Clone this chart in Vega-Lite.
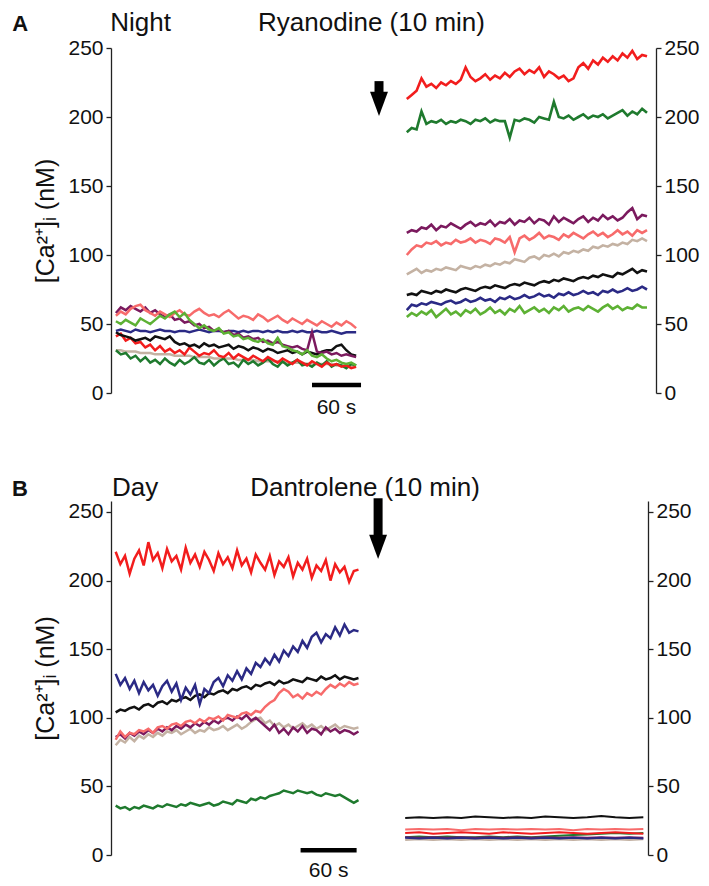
{
"$schema":"https://vega.github.io/schema/vega-lite/v6.json",
"background":"white",
"padding":{"left":12,"top":10,"right":5,"bottom":3},
"bounds":"flush",
"spacing":108,
"config":{"view":{"stroke":null},"font":"Liberation Sans",
"axis":{"grid":false,"labelFont":"Liberation Sans","labelFontSize":21,"labelColor":"#111","domainColor":"#222","tickColor":"#222","domainWidth":1.3,"tickWidth":1.3,"tickSize":5,"labelPadding":3,"titleFont":"Liberation Sans","titleFontSize":25,"titleFontWeight":"normal","titleColor":"#111"}},
"datasets":{
"AL":[
{"t":6,"r":41,"g":31,"p":58,"s":56,"n":31,"k":44,"b":45,"l":52},
{"t":12,"r":43,"g":28,"p":62,"s":59,"n":31,"k":42,"b":46,"l":50},
{"t":18,"r":38,"g":29,"p":60,"s":57,"n":30,"k":41,"b":45,"l":53},
{"t":24,"r":40,"g":25,"p":63,"s":61,"n":30,"k":40,"b":44,"l":51},
{"t":30,"r":36,"g":27,"p":61,"s":63,"n":30,"k":38,"b":46,"l":49},
{"t":36,"r":37,"g":23,"p":59,"s":64,"n":29,"k":39,"b":45,"l":54},
{"t":42,"r":33,"g":26,"p":62,"s":60,"n":29,"k":40,"b":45,"l":52},
{"t":48,"r":35,"g":22,"p":58,"s":58,"n":29,"k":38,"b":44,"l":50},
{"t":54,"r":31,"g":24,"p":60,"s":56,"n":28,"k":41,"b":45,"l":53},
{"t":60,"r":34,"g":21,"p":57,"s":59,"n":28,"k":40,"b":46,"l":56},
{"t":66,"r":30,"g":25,"p":55,"s":57,"n":28,"k":39,"b":45,"l":54},
{"t":72,"r":32,"g":22,"p":57,"s":55,"n":28,"k":41,"b":45,"l":57},
{"t":78,"r":29,"g":20,"p":53,"s":58,"n":27,"k":37,"b":44,"l":59},
{"t":84,"r":31,"g":24,"p":54,"s":60,"n":27,"k":35,"b":45,"l":55},
{"t":90,"r":28,"g":21,"p":51,"s":57,"n":27,"k":36,"b":45,"l":58},
{"t":96,"r":33,"g":23,"p":52,"s":56,"n":27,"k":34,"b":44,"l":53},
{"t":102,"r":30,"g":26,"p":49,"s":59,"n":26,"k":35,"b":45,"l":50},
{"t":108,"r":27,"g":22,"p":50,"s":61,"n":26,"k":33,"b":46,"l":47},
{"t":114,"r":29,"g":21,"p":47,"s":58,"n":26,"k":36,"b":45,"l":49},
{"t":120,"r":28,"g":24,"p":48,"s":56,"n":26,"k":34,"b":44,"l":46},
{"t":126,"r":31,"g":20,"p":45,"s":57,"n":25,"k":35,"b":45,"l":45},
{"t":132,"r":27,"g":23,"p":46,"s":55,"n":25,"k":33,"b":45,"l":47},
{"t":138,"r":26,"g":25,"p":44,"s":58,"n":25,"k":34,"b":44,"l":43},
{"t":144,"r":29,"g":21,"p":45,"s":60,"n":25,"k":35,"b":45,"l":44},
{"t":150,"r":25,"g":22,"p":42,"s":57,"n":25,"k":32,"b":45,"l":41},
{"t":156,"r":28,"g":19,"p":43,"s":54,"n":24,"k":34,"b":44,"l":42},
{"t":162,"r":26,"g":24,"p":40,"s":56,"n":24,"k":33,"b":45,"l":39},
{"t":168,"r":24,"g":21,"p":41,"s":55,"n":24,"k":31,"b":44,"l":40},
{"t":174,"r":27,"g":23,"p":39,"s":53,"n":24,"k":33,"b":45,"l":38},
{"t":180,"r":25,"g":20,"p":40,"s":57,"n":23,"k":32,"b":45,"l":37},
{"t":186,"r":23,"g":22,"p":37,"s":55,"n":23,"k":30,"b":44,"l":39},
{"t":192,"r":26,"g":25,"p":38,"s":52,"n":23,"k":32,"b":45,"l":36},
{"t":198,"r":24,"g":21,"p":36,"s":54,"n":23,"k":31,"b":44,"l":35},
{"t":204,"r":22,"g":19,"p":37,"s":56,"n":23,"k":29,"b":45,"l":40},
{"t":210,"r":25,"g":23,"p":35,"s":53,"n":22,"k":30,"b":44,"l":34},
{"t":216,"r":23,"g":20,"p":34,"s":51,"n":22,"k":31,"b":44,"l":33},
{"t":222,"r":21,"g":22,"p":33,"s":54,"n":22,"k":29,"b":45,"l":31},
{"t":228,"r":24,"g":24,"p":34,"s":52,"n":22,"k":30,"b":44,"l":30},
{"t":234,"r":22,"g":20,"p":32,"s":50,"n":22,"k":28,"b":45,"l":28},
{"t":240,"r":20,"g":21,"p":31,"s":53,"n":21,"k":30,"b":44,"l":31},
{"t":246,"r":23,"g":19,"p":44,"s":51,"n":21,"k":29,"b":44,"l":27},
{"t":252,"r":21,"g":22,"p":30,"s":49,"n":21,"k":28,"b":45,"l":26},
{"t":258,"r":19,"g":20,"p":29,"s":52,"n":21,"k":30,"b":44,"l":28},
{"t":264,"r":22,"g":23,"p":30,"s":50,"n":21,"k":31,"b":44,"l":25},
{"t":270,"r":20,"g":19,"p":28,"s":48,"n":21,"k":31,"b":45,"l":23},
{"t":276,"r":21,"g":21,"p":29,"s":51,"n":20,"k":34,"b":44,"l":24},
{"t":282,"r":19,"g":20,"p":27,"s":49,"n":20,"k":35,"b":43,"l":22},
{"t":288,"r":20,"g":18,"p":28,"s":52,"n":20,"k":31,"b":44,"l":21},
{"t":294,"r":18,"g":21,"p":27,"s":50,"n":20,"k":28,"b":44,"l":22},
{"t":300,"r":19,"g":20,"p":26,"s":47,"n":20,"k":27,"b":44,"l":20}],
"AR":[
{"t":362,"r":213,"g":189,"p":116,"s":100,"n":86,"k":71,"b":60,"l":55},
{"t":368,"r":216,"g":192,"p":118,"s":104,"n":88,"k":72,"b":64,"l":58},
{"t":374,"r":219,"g":191,"p":117,"s":107,"n":90,"k":71,"b":63,"l":56},
{"t":380,"r":228,"g":204,"p":120,"s":106,"n":87,"k":74,"b":65,"l":59},
{"t":386,"r":222,"g":195,"p":119,"s":109,"n":89,"k":73,"b":64,"l":57},
{"t":392,"r":224,"g":197,"p":122,"s":108,"n":88,"k":72,"b":66,"l":60},
{"t":398,"r":221,"g":196,"p":118,"s":110,"n":90,"k":74,"b":65,"l":55},
{"t":404,"r":225,"g":198,"p":121,"s":107,"n":89,"k":73,"b":64,"l":58},
{"t":410,"r":223,"g":195,"p":120,"s":109,"n":91,"k":75,"b":66,"l":61},
{"t":416,"r":226,"g":197,"p":123,"s":108,"n":90,"k":74,"b":67,"l":57},
{"t":422,"r":224,"g":196,"p":121,"s":111,"n":89,"k":73,"b":65,"l":59},
{"t":428,"r":227,"g":198,"p":119,"s":109,"n":92,"k":75,"b":66,"l":56},
{"t":434,"r":236,"g":197,"p":122,"s":110,"n":91,"k":76,"b":68,"l":60},
{"t":440,"r":229,"g":195,"p":124,"s":112,"n":90,"k":75,"b":66,"l":58},
{"t":446,"r":226,"g":198,"p":121,"s":109,"n":92,"k":74,"b":67,"l":61},
{"t":452,"r":228,"g":197,"p":123,"s":111,"n":91,"k":76,"b":69,"l":57},
{"t":458,"r":231,"g":199,"p":122,"s":110,"n":93,"k":77,"b":67,"l":59},
{"t":464,"r":227,"g":196,"p":125,"s":108,"n":92,"k":76,"b":68,"l":62},
{"t":470,"r":230,"g":198,"p":121,"s":112,"n":94,"k":78,"b":66,"l":58},
{"t":476,"r":228,"g":197,"p":124,"s":111,"n":93,"k":77,"b":69,"l":60},
{"t":482,"r":232,"g":197,"p":123,"s":109,"n":95,"k":76,"b":68,"l":57},
{"t":488,"r":229,"g":185,"p":126,"s":113,"n":94,"k":78,"b":70,"l":61},
{"t":494,"r":233,"g":198,"p":122,"s":102,"n":97,"k":79,"b":68,"l":59},
{"t":500,"r":235,"g":197,"p":125,"s":112,"n":96,"k":78,"b":69,"l":63},
{"t":506,"r":231,"g":199,"p":124,"s":114,"n":95,"k":80,"b":71,"l":58},
{"t":512,"r":234,"g":198,"p":127,"s":111,"n":98,"k":79,"b":69,"l":60},
{"t":518,"r":232,"g":196,"p":123,"s":113,"n":99,"k":78,"b":70,"l":62},
{"t":524,"r":236,"g":200,"p":126,"s":116,"n":97,"k":80,"b":72,"l":59},
{"t":530,"r":229,"g":199,"p":125,"s":112,"n":100,"k":81,"b":70,"l":61},
{"t":536,"r":233,"g":198,"p":122,"s":114,"n":99,"k":80,"b":71,"l":58},
{"t":542,"r":231,"g":211,"p":128,"s":113,"n":101,"k":82,"b":69,"l":62},
{"t":548,"r":228,"g":200,"p":124,"s":111,"n":99,"k":81,"b":72,"l":60},
{"t":554,"r":230,"g":199,"p":127,"s":115,"n":102,"k":83,"b":71,"l":63},
{"t":560,"r":226,"g":201,"p":125,"s":113,"n":101,"k":82,"b":73,"l":59},
{"t":566,"r":228,"g":198,"p":123,"s":116,"n":103,"k":81,"b":71,"l":61},
{"t":572,"r":236,"g":200,"p":126,"s":114,"n":102,"k":83,"b":72,"l":62},
{"t":578,"r":239,"g":202,"p":128,"s":112,"n":104,"k":84,"b":74,"l":60},
{"t":584,"r":235,"g":199,"p":124,"s":115,"n":103,"k":83,"b":72,"l":63},
{"t":590,"r":241,"g":201,"p":127,"s":117,"n":106,"k":85,"b":73,"l":61},
{"t":596,"r":238,"g":200,"p":125,"s":114,"n":105,"k":84,"b":71,"l":59},
{"t":602,"r":243,"g":202,"p":129,"s":116,"n":107,"k":86,"b":74,"l":62},
{"t":608,"r":240,"g":199,"p":126,"s":113,"n":106,"k":85,"b":73,"l":64},
{"t":614,"r":244,"g":201,"p":128,"s":115,"n":108,"k":84,"b":75,"l":61},
{"t":620,"r":241,"g":203,"p":125,"s":118,"n":107,"k":87,"b":73,"l":63},
{"t":626,"r":246,"g":205,"p":127,"s":115,"n":109,"k":86,"b":74,"l":60},
{"t":632,"r":243,"g":201,"p":131,"s":117,"n":108,"k":88,"b":76,"l":62},
{"t":638,"r":248,"g":204,"p":134,"s":114,"n":111,"k":90,"b":74,"l":61},
{"t":644,"r":242,"g":202,"p":126,"s":118,"n":110,"k":87,"b":75,"l":64},
{"t":650,"r":245,"g":206,"p":129,"s":116,"n":112,"k":89,"b":77,"l":62},
{"t":656,"r":244,"g":203,"p":128,"s":118,"n":110,"k":88,"b":75,"l":62}],
"BL":[
{"t":5,"r":221,"g":36,"p":86,"s":84,"n":80,"k":104,"b":132},
{"t":10,"r":212,"g":34,"p":88,"s":90,"n":84,"k":106,"b":124},
{"t":15,"r":218,"g":35,"p":85,"s":86,"n":82,"k":105,"b":129},
{"t":20,"r":205,"g":33,"p":89,"s":89,"n":86,"k":107,"b":121},
{"t":25,"r":216,"g":35,"p":87,"s":88,"n":83,"k":108,"b":127},
{"t":30,"r":222,"g":34,"p":90,"s":91,"n":87,"k":106,"b":118},
{"t":35,"r":211,"g":36,"p":88,"s":90,"n":85,"k":109,"b":126},
{"t":40,"r":228,"g":35,"p":91,"s":92,"n":88,"k":110,"b":120},
{"t":45,"r":215,"g":34,"p":89,"s":89,"n":86,"k":108,"b":124},
{"t":50,"r":220,"g":36,"p":92,"s":93,"n":89,"k":111,"b":116},
{"t":55,"r":209,"g":35,"p":90,"s":94,"n":87,"k":112,"b":123},
{"t":60,"r":223,"g":37,"p":93,"s":92,"n":90,"k":110,"b":127},
{"t":65,"r":214,"g":36,"p":91,"s":95,"n":89,"k":113,"b":119},
{"t":70,"r":218,"g":35,"p":94,"s":96,"n":91,"k":112,"b":125},
{"t":75,"r":208,"g":37,"p":92,"s":94,"n":88,"k":114,"b":113},
{"t":80,"r":224,"g":36,"p":95,"s":97,"n":90,"k":115,"b":122},
{"t":85,"r":213,"g":38,"p":93,"s":98,"n":92,"k":113,"b":117},
{"t":90,"r":219,"g":37,"p":96,"s":96,"n":89,"k":116,"b":124},
{"t":95,"r":210,"g":36,"p":94,"s":99,"n":91,"k":117,"b":110},
{"t":100,"r":221,"g":37,"p":97,"s":97,"n":90,"k":115,"b":121},
{"t":105,"r":215,"g":38,"p":95,"s":100,"n":93,"k":118,"b":118},
{"t":110,"r":207,"g":36,"p":98,"s":99,"n":91,"k":117,"b":126},
{"t":115,"r":220,"g":37,"p":96,"s":101,"n":92,"k":119,"b":129},
{"t":120,"r":212,"g":39,"p":99,"s":98,"n":94,"k":120,"b":123},
{"t":125,"r":217,"g":38,"p":100,"s":102,"n":91,"k":118,"b":131},
{"t":130,"r":209,"g":37,"p":98,"s":101,"n":93,"k":121,"b":127},
{"t":135,"r":222,"g":40,"p":101,"s":100,"n":95,"k":120,"b":134},
{"t":140,"r":211,"g":39,"p":99,"s":103,"n":92,"k":122,"b":128},
{"t":145,"r":216,"g":38,"p":102,"s":104,"n":94,"k":123,"b":136},
{"t":150,"r":206,"g":41,"p":98,"s":102,"n":97,"k":121,"b":132},
{"t":155,"r":219,"g":40,"p":100,"s":105,"n":99,"k":124,"b":140},
{"t":160,"r":213,"g":42,"p":97,"s":104,"n":100,"k":123,"b":137},
{"t":165,"r":208,"g":41,"p":94,"s":108,"n":96,"k":125,"b":143},
{"t":170,"r":218,"g":43,"p":91,"s":111,"n":98,"k":126,"b":139},
{"t":175,"r":204,"g":44,"p":95,"s":113,"n":94,"k":124,"b":146},
{"t":180,"r":214,"g":45,"p":89,"s":118,"n":96,"k":127,"b":141},
{"t":185,"r":210,"g":47,"p":92,"s":121,"n":93,"k":125,"b":149},
{"t":190,"r":217,"g":46,"p":88,"s":119,"n":95,"k":126,"b":145},
{"t":195,"r":203,"g":45,"p":93,"s":115,"n":92,"k":128,"b":152},
{"t":200,"r":213,"g":47,"p":90,"s":117,"n":94,"k":127,"b":148},
{"t":205,"r":208,"g":46,"p":94,"s":114,"n":96,"k":126,"b":156},
{"t":210,"r":216,"g":45,"p":89,"s":118,"n":93,"k":129,"b":151},
{"t":215,"r":202,"g":46,"p":92,"s":116,"n":95,"k":128,"b":159},
{"t":220,"r":211,"g":44,"p":91,"s":119,"n":92,"k":127,"b":162},
{"t":225,"r":207,"g":43,"p":88,"s":117,"n":94,"k":130,"b":155},
{"t":230,"r":215,"g":45,"p":93,"s":121,"n":91,"k":128,"b":161},
{"t":235,"r":200,"g":44,"p":90,"s":124,"n":93,"k":129,"b":158},
{"t":240,"r":212,"g":43,"p":92,"s":122,"n":95,"k":131,"b":166},
{"t":245,"r":206,"g":44,"p":89,"s":125,"n":92,"k":128,"b":160},
{"t":250,"r":210,"g":42,"p":91,"s":123,"n":94,"k":130,"b":168},
{"t":255,"r":199,"g":40,"p":90,"s":126,"n":93,"k":129,"b":162},
{"t":260,"r":207,"g":38,"p":88,"s":124,"n":92,"k":128,"b":164},
{"t":265,"r":208,"g":40,"p":90,"s":125,"n":93,"k":129,"b":163}],
"BR":[
{"t":315,"k":27,"s":18.5,"r":16,"g":13,"b":12.5,"p":13,"n":11},
{"t":330,"k":27.5,"s":19,"r":16.5,"g":13.5,"b":12,"p":12.5,"n":11.5},
{"t":345,"k":27,"s":18.5,"r":15.5,"g":13,"b":12.5,"p":13,"n":11},
{"t":360,"k":27.5,"s":19,"r":16,"g":13.5,"b":12,"p":12.5,"n":11.5},
{"t":375,"k":27,"s":18,"r":16.5,"g":13,"b":12.5,"p":13,"n":11},
{"t":390,"k":28,"s":19,"r":16,"g":13,"b":12,"p":12.5,"n":11.5},
{"t":405,"k":27.5,"s":18.5,"r":15.5,"g":13.5,"b":12.5,"p":13,"n":11},
{"t":420,"k":27,"s":19,"r":16.5,"g":13,"b":12,"p":12.5,"n":11.5},
{"t":435,"k":27.5,"s":18.5,"r":16,"g":13.5,"b":12.5,"p":13,"n":11},
{"t":450,"k":27,"s":19,"r":15.5,"g":13,"b":12,"p":12.5,"n":11.5},
{"t":465,"k":28,"s":18.5,"r":16,"g":13.5,"b":12.5,"p":13,"n":11},
{"t":480,"k":27.5,"s":19,"r":16.5,"g":14,"b":12,"p":12.5,"n":11.5},
{"t":495,"k":27,"s":18,"r":16,"g":14.5,"b":12.5,"p":13,"n":11},
{"t":510,"k":27.5,"s":19,"r":15.5,"g":15,"b":12,"p":12.5,"n":11.5},
{"t":525,"k":28.5,"s":18.5,"r":16,"g":15.5,"b":12.5,"p":13,"n":11},
{"t":540,"k":27.5,"s":19,"r":16.5,"g":16,"b":12,"p":12.5,"n":11.5},
{"t":555,"k":27,"s":18.5,"r":16,"g":15.5,"b":12.5,"p":13,"n":11},
{"t":570,"k":27.5,"s":19,"r":15.5,"g":16,"b":12,"p":12.5,"n":11.5}]
},
"vconcat":[
{
"width":545,"height":345,
"layer":[
{"layer":[
{"data":{"name":"AL"},"transform":[{"fold":["n","g","r","k","b","p","s","l"],"as":["key","v"]}],
"mark":{"type":"line","strokeWidth":2.5},
"encoding":{
"x":{"field":"t","type":"quantitative","scale":{"domain":[0,667],"nice":false,"zero":false},"axis":null},
"y":{"field":"v","type":"quantitative","scale":{"domain":[0,250],"nice":false},"axis":{"values":[0,50,100,150,200,250],"title":"[Ca²⁺]ᵢ (nM)","titlePadding":9}},
"color":{"field":"key","type":"nominal","scale":{"domain":["r","g","p","s","n","k","b","l"],"range":["#f21d1d","#1f7a2e","#7b1a5e","#f76b6b","#c4b2a3","#111111","#2b2a85","#5db134"]},"legend":null},
"strokeWidth":{"condition":{"test":"datum.key === 'b'","value":1.6},"value":2.5}}},
{"data":{"values":[{"t":246,"t2":306,"v":5.8}]},"mark":{"type":"rule","strokeWidth":4.5,"color":"#000"},
"encoding":{"x":{"field":"t","type":"quantitative"},"x2":{"field":"t2"},"y":{"field":"v","type":"quantitative"}}},
{"data":{"values":[{"t":276,"v":-11,"label":"60 s"}]},"mark":{"type":"text","fontSize":21,"align":"center","baseline":"middle","color":"#111"},
"encoding":{"x":{"field":"t","type":"quantitative"},"y":{"field":"v","type":"quantitative"},"text":{"field":"label"}}},
{"data":{"values":[{"t":328,"v":226,"v2":213.8}]},"mark":{"type":"rule","strokeWidth":9,"color":"#000"},
"encoding":{"x":{"field":"t","type":"quantitative"},"y":{"field":"v","type":"quantitative"},"y2":{"field":"v2"}}},
{"data":{"values":[{"t":328,"v":209.8}]},"mark":{"type":"point","filled":true,"opacity":1,"color":"#000","size":320,"shape":"M-1,-1.3L1,-1.3L0,1.4Z"},
"encoding":{"x":{"field":"t","type":"quantitative"},"y":{"field":"v","type":"quantitative"}}},
{"data":{"values":[{"t":-121,"v":262,"label":"A"}]},"mark":{"type":"text","fontSize":22,"fontWeight":"bold","align":"left","baseline":"alphabetic","color":"#111"},
"encoding":{"x":{"field":"t","type":"quantitative"},"y":{"field":"v","type":"quantitative"},"text":{"field":"label"}}},
{"data":{"values":[{"t":-1,"v":262,"label":"Night"},{"t":180,"v":262,"label":"Ryanodine (10 min)"}]},"mark":{"type":"text","fontSize":26,"align":"left","baseline":"alphabetic","color":"#111"},
"encoding":{"x":{"field":"t","type":"quantitative"},"y":{"field":"v","type":"quantitative"},"text":{"field":"label"}}}
]},
{"data":{"name":"AR"},"transform":[{"fold":["n","g","r","k","b","p","s","l"],"as":["key","v"]}],
"mark":{"type":"line","strokeWidth":2.6},
"encoding":{
"x":{"field":"t","type":"quantitative"},
"y":{"field":"v","type":"quantitative","scale":{"domain":[0,250],"nice":false},"axis":{"orient":"right","values":[0,50,100,150,200,250],"title":null}},
"color":{"field":"key","type":"nominal","legend":null}}}
],
"resolve":{"scale":{"y":"independent"},"axis":{"y":"independent"}}
},
{
"width":537,"height":354,
"layer":[
{"layer":[
{"data":{"name":"BL"},"transform":[{"fold":["n","g","p","s","k","b","r"],"as":["key","v"]}],
"mark":{"type":"line","strokeWidth":2.5},
"encoding":{
"x":{"field":"t","type":"quantitative","scale":{"domain":[0,575],"nice":false,"zero":false},"axis":null},
"y":{"field":"v","type":"quantitative","scale":{"domain":[0,258],"nice":false},"axis":{"values":[0,50,100,150,200,250],"title":"[Ca²⁺]ᵢ (nM)","titlePadding":9}},
"color":{"field":"key","type":"nominal","legend":null}}},
{"data":{"values":[{"t":203,"t2":263,"v":3.4}]},"mark":{"type":"rule","strokeWidth":4.5,"color":"#000"},
"encoding":{"x":{"field":"t","type":"quantitative"},"x2":{"field":"t2"},"y":{"field":"v","type":"quantitative"}}},
{"data":{"values":[{"t":233,"v":-11.7,"label":"60 s"}]},"mark":{"type":"text","fontSize":21,"align":"center","baseline":"middle","color":"#111"},
"encoding":{"x":{"field":"t","type":"quantitative"},"y":{"field":"v","type":"quantitative"},"text":{"field":"label"}}},
{"data":{"values":[{"t":286,"v":260,"v2":232.5}]},"mark":{"type":"rule","strokeWidth":9,"color":"#000"},
"encoding":{"x":{"field":"t","type":"quantitative"},"y":{"field":"v","type":"quantitative"},"y2":{"field":"v2"}}},
{"data":{"values":[{"t":286,"v":224.9}]},"mark":{"type":"point","filled":true,"opacity":1,"color":"#000","size":320,"shape":"M-1,-1.3L1,-1.3L0,1.4Z"},
"encoding":{"x":{"field":"t","type":"quantitative"},"y":{"field":"v","type":"quantitative"}}},
{"data":{"values":[{"t":-106,"v":261.5,"label":"B"}]},"mark":{"type":"text","fontSize":22,"fontWeight":"bold","align":"left","baseline":"alphabetic","color":"#111"},
"encoding":{"x":{"field":"t","type":"quantitative"},"y":{"field":"v","type":"quantitative"},"text":{"field":"label"}}},
{"data":{"values":[{"t":1,"v":261.5,"label":"Day"},{"t":149,"v":261.5,"label":"Dantrolene (10 min)"}]},"mark":{"type":"text","fontSize":26,"align":"left","baseline":"alphabetic","color":"#111"},
"encoding":{"x":{"field":"t","type":"quantitative"},"y":{"field":"v","type":"quantitative"},"text":{"field":"label"}}}
]},
{"data":{"name":"BR"},"transform":[{"fold":["n","g","p","s","k","b","r"],"as":["key","v"]}],
"mark":{"type":"line","strokeWidth":2},
"encoding":{
"x":{"field":"t","type":"quantitative"},
"y":{"field":"v","type":"quantitative","scale":{"domain":[0,258],"nice":false},"axis":{"orient":"right","values":[0,50,100,150,200,250],"title":null}},
"color":{"field":"key","type":"nominal","legend":null}}}
],
"resolve":{"scale":{"y":"independent"},"axis":{"y":"independent"}}
}
]
}
